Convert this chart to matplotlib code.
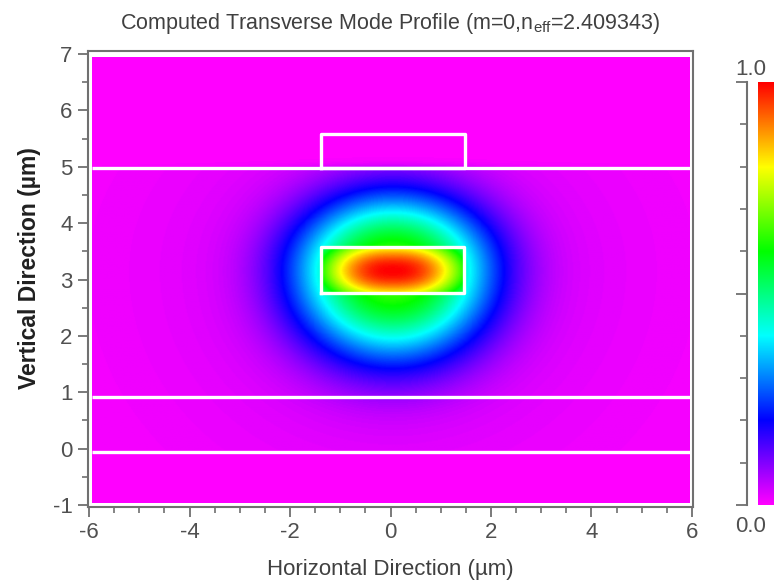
import numpy as np
import matplotlib
matplotlib.use("Agg")
import matplotlib.pyplot as plt
from matplotlib.colors import LinearSegmentedColormap

plt.rcParams['font.family'] = ['Liberation Sans', 'DejaVu Sans']
plt.rcParams['axes.unicode_minus'] = False

# ---- data / geometry ----
x_range = [-6, 6]
y_range = [-1, 7]
x_ticks = [-6, -4, -2, 0, 2, 4, 6]
y_ticks = [-1, 0, 1, 2, 3, 4, 5, 6, 7]
layer_lines_y = [4.98, 0.92, -0.06]          # horizontal layer boundaries
core_rect = [-1.38, 1.46, 2.76, 3.58]        # x0, x1, y0, y1
rib_rect = [-1.38, 1.48, 4.98, 5.58]         # x0, x1, y0, y1
mode_center = [0.04, 3.17]                    # field maximum (x, y)
core_widths = [1.95, 0.85]                    # in-core decay widths (x, y)
clad_widths = [2.0, 1.35, 1.58]               # cladding widths (x, y above, y below)
clad_amp = [0.58, 0.1]                        # gaussian part, tail part
cbar_ticks_major = [0.0, 0.5, 1.0]
cbar_labels = ["0.0", "1.0"]
cmap_colors = ["#ff00ff", "#0000ff", "#00ffff", "#00ff00", "#ffff00", "#ff0000"]
cmap_stops = [0.0, 0.2, 0.4, 0.6, 0.8, 1.0]
title = "Computed Transverse Mode Profile (m=0,n$_{\\mathregular{eff}}$=2.409343)"

# ---- mode field model ----
xs = np.linspace(x_range[0], x_range[1], 600)
ys = np.linspace(y_range[0], y_range[1], 450)
X, Y = np.meshgrid(xs, ys)
dx = X - mode_center[0]
dy = Y - mode_center[1]

f_in = np.exp(-(np.abs(dx) / core_widths[0]) ** 2.4 - (dy / core_widths[1]) ** 2)
sy = np.where(dy > 0, clad_widths[1], clad_widths[2])
q = (dx / clad_widths[0]) ** 2 + (dy / sy) ** 2
f_out = clad_amp[0] * np.exp(-q ** 1.25) + clad_amp[1] * np.exp(-0.7 * np.sqrt(q))
inside = (X >= core_rect[0]) & (X <= core_rect[1]) & (Y >= core_rect[2]) & (Y <= core_rect[3])
F = np.where(inside, f_in, f_out)
F = np.where(Y > layer_lines_y[0], F * np.exp(-(Y - layer_lines_y[0]) / 0.08), F)
F = np.where(Y < layer_lines_y[2], F * 0.15, F)
F = np.clip(F, 0, 1)

cmap = LinearSegmentedColormap.from_list("mode", list(zip(cmap_stops, cmap_colors)))

W, H = 774, 585
fig = plt.figure(figsize=(W / 100, H / 100), dpi=100)
fig.patch.set_facecolor("white")

def px_rect(l, t, r, b):
    return [l / W, 1 - b / H, (r - l) / W, (b - t) / H]

ax = fig.add_axes(px_rect(88, 51, 693, 507))
ax.imshow(F, origin="lower", cmap=cmap, vmin=0, vmax=1, aspect="auto",
          extent=[-5.94, 5.96, -0.96, 6.95], interpolation="bilinear")
ax.set_xlim(-6.02, 6.02)
ax.set_ylim(-1.035, 7.053)

lw = 2.4
for yl in layer_lines_y:
    ax.plot([-5.94, 5.96], [yl, yl], color="white", lw=lw, solid_capstyle="butt")
for r in (core_rect, rib_rect):
    x0, x1, y0, y1 = r
    ax.plot([x0, x0, x1, x1, x0], [y0, y1, y1, y0, y0], color="white", lw=lw)

gray = "#707070"
for s in ax.spines.values():
    s.set_color(gray)
    s.set_linewidth(1.5)
ax.set_xticks(x_ticks)
ax.set_yticks(y_ticks)
ax.set_xticks(np.arange(-6, 6.01, 0.5), minor=True)
ax.set_yticks(np.arange(-1, 7.01, 0.5), minor=True)
ax.set_xticklabels([str(v) for v in x_ticks])
ax.set_yticklabels([str(v) for v in y_ticks])
ax.tick_params(which="major", length=7, width=1.3, color=gray, labelcolor="#505050",
               labelsize=16, pad=4)
ax.tick_params(which="minor", length=4, width=1.2, color=gray)
ax.set_xlabel("Horizontal Direction (\u00b5m)", fontsize=16, color="#404040", labelpad=11)
ax.set_ylabel("Vertical Direction (\u00b5m)", fontsize=16.5, color="#202020",
              fontweight="bold")
ax.yaxis.set_label_coords(-0.077, 0.525)
ax.set_title(title, fontsize=15.5, color="#404040", pad=16)

# ---- colorbar ----
cax = fig.add_axes(px_rect(747, 82, 774, 505))
grad = np.linspace(0, 1, 256).reshape(-1, 1)
cax.imshow(grad, origin="lower", cmap=cmap, vmin=0, vmax=1, aspect="auto",
           extent=[11 / 27, 1.0, 0, 1])
cax.set_xlim(0, 1)
cax.set_ylim(0, 1)
for k, s in cax.spines.items():
    s.set_visible(k == "left")
cax.spines["left"].set_color(gray)
cax.spines["left"].set_linewidth(1.5)
cax.set_xticks([])
cax.set_yticks(cbar_ticks_major)
cax.set_yticks(np.arange(0.1, 1.0, 0.1), minor=True)
cax.set_yticklabels([])
cax.tick_params(which="major", length=8, width=1.3, color=gray)
cax.tick_params(which="minor", length=5, width=1.2, color=gray)
cax.text(0.15, -0.025, cbar_labels[0], transform=cax.transAxes, ha="center", va="top",
         fontsize=16, color="#505050")
cax.text(0.15, 1.005, cbar_labels[1], transform=cax.transAxes, ha="center", va="bottom",
         fontsize=16, color="#505050")

fig.savefig("out.png", dpi=100)
